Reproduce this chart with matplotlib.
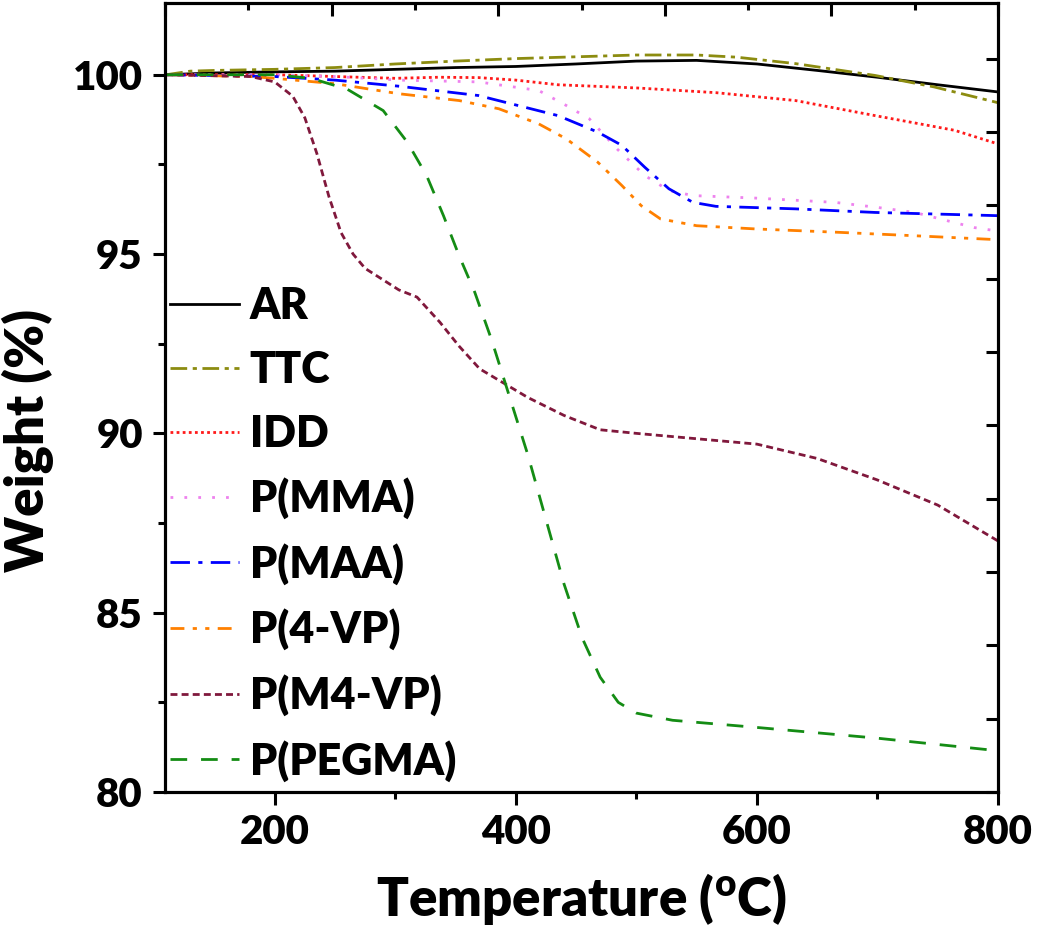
import numpy as np
import matplotlib
matplotlib.use("Agg")
from matplotlib import pyplot as plt
from matplotlib.ticker import MultipleLocator

plt.rcParams['font.family'] = ['Lato', 'DejaVu Sans']
plt.rcParams['font.weight'] = 'heavy'
plt.rcParams['mathtext.fontset'] = 'custom'
plt.rcParams['mathtext.rm'] = 'Lato:heavy'
plt.rcParams['mathtext.it'] = 'Lato:heavy'
plt.rcParams['mathtext.bf'] = 'Lato:heavy'

# TGA curves (temperature in C, weight in %)
ar_t = [110, 150, 200, 250, 300, 350, 400, 450, 500, 550, 600, 650, 700, 750, 800]
ar_w = [100.0, 100.05, 100.08, 100.1, 100.15, 100.2, 100.23, 100.3, 100.38, 100.4, 100.3, 100.12, 99.93, 99.72, 99.52]

ttc_t = [110, 130, 150, 200, 250, 300, 350, 400, 450, 500, 550, 583, 632, 698, 747, 800]
ttc_w = [100.0, 100.1, 100.12, 100.15, 100.2, 100.3, 100.38, 100.45, 100.5, 100.55, 100.55, 100.49, 100.31, 99.98, 99.66, 99.22]

idd_t = [110, 200, 250, 300, 336, 369, 400, 435, 501, 566, 632, 698, 764, 800]
idd_w = [100.0, 100.0, 99.95, 99.9, 99.93, 99.92, 99.85, 99.72, 99.63, 99.5, 99.28, 98.86, 98.45, 98.07]

mma_t = [110, 200, 250, 303, 369, 419, 442, 461, 484, 507, 527, 547, 599, 665, 700, 731, 780, 800]
mma_w = [100.0, 100.0, 99.95, 99.85, 99.8, 99.56, 99.14, 98.77, 97.93, 97.19, 96.77, 96.63, 96.56, 96.44, 96.3, 96.16, 95.74, 95.64]

maa_t = [110, 200, 250, 303, 369, 402, 435, 468, 488, 507, 527, 547, 566, 632, 698, 800]
maa_w = [100.0, 99.95, 99.85, 99.68, 99.42, 99.14, 98.86, 98.4, 98.03, 97.42, 96.82, 96.44, 96.33, 96.26, 96.16, 96.07]

vp_t = [110, 180, 200, 250, 303, 353, 386, 419, 442, 468, 488, 504, 520, 550, 599, 665, 731, 800]
vp_w = [100.0, 99.95, 99.9, 99.75, 99.47, 99.28, 99.05, 98.63, 98.21, 97.56, 96.91, 96.35, 95.98, 95.79, 95.7, 95.61, 95.51, 95.4]

m4vp_t = [110, 180, 200, 215, 225, 235, 245, 255, 265, 275, 289, 303, 318, 337, 353, 370,
          390, 410, 440, 470, 500, 550, 600, 650, 700, 750, 800]
m4vp_w = [100.0, 99.95, 99.8, 99.4, 98.8, 97.8, 96.6, 95.6, 95.0, 94.6, 94.3, 94.0, 93.8, 93.1, 92.43, 91.8,
          91.4, 91.0, 90.5, 90.1, 90.0, 89.85, 89.7, 89.3, 88.7, 88.0, 87.0]

peg_t = [110, 200, 230, 260, 290, 310, 326, 340, 353, 366, 380, 395, 410, 425, 440, 455,
         470, 485, 500, 530, 600, 700, 800]
peg_w = [100.0, 100.0, 99.9, 99.6, 99.0, 98.12, 97.19, 96.07, 94.95, 93.93, 92.6, 91.0, 89.4, 87.6, 85.8, 84.3,
         83.2, 82.5, 82.2, 82.0, 81.8, 81.5, 81.15]

labels = ['AR', 'TTC', 'IDD', 'P(MMA)', 'P(MAA)', 'P(4-VP)', 'P(M4-VP)', 'P(PEGMA)']
colors = ['black', '#8c8c10', '#ff1a1a', '#ee82ee', '#0000ff', '#ff8000', '#80183c', '#148c14']
styles = ['-', (0, (6, 2, 1.5, 2)), (0, (1, 1.2)), (0, (1, 4)), (0, (7, 3, 1.5, 3)),
          (0, (5, 3, 1.5, 3, 1.5, 3)), (0, (2.5, 1.5)), (0, (6, 5))]
series = [(ar_t, ar_w), (ttc_t, ttc_w), (idd_t, idd_w), (mma_t, mma_w),
          (maa_t, maa_w), (vp_t, vp_w), (m4vp_t, m4vp_w), (peg_t, peg_w)]

fig = plt.figure(figsize=(10.5, 9.44), dpi=100)
ax = fig.add_axes([165 / 1050, 1 - 792 / 944, 833 / 1050, 789 / 944])

for (t, w), lab, c, ls in zip(series, labels, colors, styles):
    ax.plot(t, w, color=c, linestyle=ls, lw=2.0, label=lab)

ax.set_xlim(109, 800)
ax.set_ylim(80, 102)
ax.xaxis.set_major_locator(MultipleLocator(200))
ax.xaxis.set_minor_locator(MultipleLocator(100))
ax.yaxis.set_major_locator(MultipleLocator(5))
ax.yaxis.set_minor_locator(MultipleLocator(2.5))
ax.tick_params(which='both', direction='out', width=2.2, labelsize=29, top=False, right=False)
ax.tick_params(which='major', length=9, pad=7)
ax.tick_params(which='minor', length=5)
for sp in ax.spines.values():
    sp.set_linewidth(2.2)

# Origin-style extra tick rows on the top and right frame
axt = ax.twiny()
axt.set_xlim(0, 10)
axt.xaxis.set_major_locator(MultipleLocator(2))
axt.xaxis.set_minor_locator(MultipleLocator(1))
axt.tick_params(which='both', direction='in', width=2.2, labeltop=False)
axt.tick_params(which='major', length=9)
axt.tick_params(which='minor', length=5)
axr = ax.twinx()
axr.set_ylim(0, 10.76)
axr.yaxis.set_major_locator(MultipleLocator(1))
axr.tick_params(direction='in', width=2.2, length=9, labelright=False)
for a in (axt, axr):
    for sp in a.spines.values():
        sp.set_linewidth(2.2)

ax.set_xlabel('Temperature ($^\\mathrm{o}$C)', fontsize=38, fontweight='heavy')
ax.set_ylabel('Weight (%)', fontsize=38, fontweight='heavy', va='center')
ax.xaxis.set_label_coords(0.5, -0.1)
ax.yaxis.set_label_coords(-0.165, 0.446)

ax.legend(loc='upper left', bbox_to_anchor=(0.006, 0.641), frameon=False,
          fontsize=31, handlelength=1.6, handletextpad=0.25, labelspacing=0.55,
          borderpad=0, borderaxespad=0)

fig.savefig('out.png', dpi=100)
